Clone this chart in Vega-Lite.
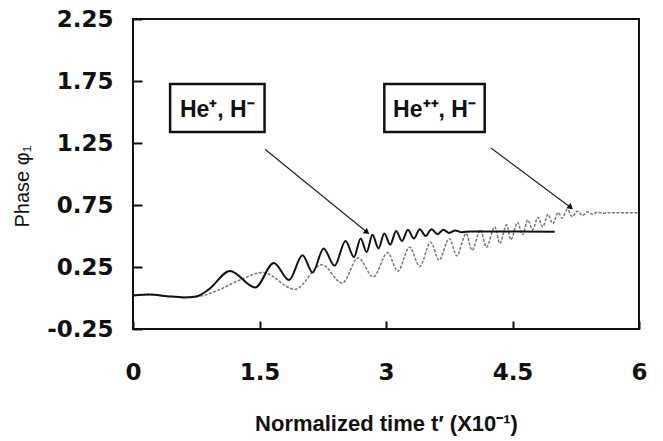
{
  "$schema": "https://vega.github.io/schema/vega-lite/v6.json",
  "width": 506,
  "height": 310,
  "autosize": {"type": "none"},
  "padding": {"left": 133, "top": 19, "right": 24, "bottom": 112},
  "background": "white",
  "config": {
    "view": {"stroke": "#111", "strokeWidth": 2},
    "font": "Liberation Sans"
  },
  "datasets": {
    "heplus": [
      {"t": 0, "v": 0.02}, {"t": 0.2, "v": 0.028}, {"t": 0.4, "v": 0.015}, {"t": 0.6, "v": 0.005},
      {"t": 0.75, "v": 0.012}, {"t": 0.9, "v": 0.07}, {"t": 1.15, "v": 0.218}, {"t": 1.45, "v": 0.085},
      {"t": 1.67, "v": 0.282}, {"t": 1.85, "v": 0.145}, {"t": 2.01, "v": 0.345}, {"t": 2.13, "v": 0.205},
      {"t": 2.26, "v": 0.4}, {"t": 2.39, "v": 0.26}, {"t": 2.52, "v": 0.46}, {"t": 2.62, "v": 0.33},
      {"t": 2.7, "v": 0.48}, {"t": 2.77, "v": 0.37}, {"t": 2.84, "v": 0.51}, {"t": 2.91, "v": 0.4},
      {"t": 2.98, "v": 0.52}, {"t": 3.05, "v": 0.43}, {"t": 3.12, "v": 0.54}, {"t": 3.19, "v": 0.46},
      {"t": 3.26, "v": 0.55}, {"t": 3.33, "v": 0.48}, {"t": 3.4, "v": 0.555}, {"t": 3.47, "v": 0.5},
      {"t": 3.54, "v": 0.555}, {"t": 3.61, "v": 0.515}, {"t": 3.68, "v": 0.55}, {"t": 3.75, "v": 0.525},
      {"t": 3.82, "v": 0.545}, {"t": 3.9, "v": 0.53}, {"t": 4.0, "v": 0.537}, {"t": 5.0, "v": 0.535}
    ],
    "heplusplus": [
      {"t": 0, "v": 0.02}, {"t": 0.2, "v": 0.028}, {"t": 0.4, "v": 0.015}, {"t": 0.6, "v": 0.005},
      {"t": 0.8, "v": 0.015}, {"t": 1.0, "v": 0.06}, {"t": 1.25, "v": 0.14}, {"t": 1.54, "v": 0.205},
      {"t": 1.92, "v": 0.07}, {"t": 2.24, "v": 0.268}, {"t": 2.48, "v": 0.12}, {"t": 2.67, "v": 0.322},
      {"t": 2.85, "v": 0.17}, {"t": 3.02, "v": 0.365}, {"t": 3.14, "v": 0.215}, {"t": 3.28, "v": 0.41},
      {"t": 3.4, "v": 0.255}, {"t": 3.53, "v": 0.45}, {"t": 3.63, "v": 0.305}, {"t": 3.75, "v": 0.48},
      {"t": 3.84, "v": 0.34}, {"t": 3.95, "v": 0.52}, {"t": 4.02, "v": 0.385}, {"t": 4.12, "v": 0.55},
      {"t": 4.19, "v": 0.41}, {"t": 4.29, "v": 0.575}, {"t": 4.35, "v": 0.44}, {"t": 4.43, "v": 0.59},
      {"t": 4.48, "v": 0.47}, {"t": 4.56, "v": 0.61}, {"t": 4.62, "v": 0.51}, {"t": 4.68, "v": 0.63},
      {"t": 4.74, "v": 0.55}, {"t": 4.8, "v": 0.65}, {"t": 4.86, "v": 0.575}, {"t": 4.92, "v": 0.675},
      {"t": 4.98, "v": 0.6}, {"t": 5.04, "v": 0.69}, {"t": 5.09, "v": 0.645}, {"t": 5.15, "v": 0.715},
      {"t": 5.21, "v": 0.655}, {"t": 5.27, "v": 0.7}, {"t": 5.33, "v": 0.665}, {"t": 5.39, "v": 0.695},
      {"t": 5.45, "v": 0.675}, {"t": 5.51, "v": 0.692}, {"t": 5.58, "v": 0.683}, {"t": 5.65, "v": 0.688},
      {"t": 6.0, "v": 0.687}
    ],
    "labels": [
      {"t": 0.44, "t2": 1.56, "v": 1.726, "v2": 1.339, "tc": 1.0, "vc": 1.532, "label": "He⁺, H⁻"},
      {"t": 2.98, "t2": 4.17, "v": 1.726, "v2": 1.339, "tc": 3.575, "vc": 1.532, "label": "He⁺⁺, H⁻"}
    ],
    "arrows": [
      {"t": 1.565, "v": 1.2, "t2": 2.775, "v2": 0.53},
      {"t": 4.245, "v": 1.21, "t2": 5.19, "v2": 0.73}
    ]
  },
  "layer": [
    {
      "data": {"name": "heplusplus"},
      "mark": {"type": "line", "interpolate": "monotone", "color": "#777", "strokeWidth": 1.5, "strokeDash": [3, 1.5]},
      "encoding": {
        "x": {
          "field": "t", "type": "quantitative",
          "scale": {"domain": [0, 6], "nice": false, "zero": false},
          "axis": {
            "values": [0, 1.5, 3, 4.5, 6], "format": "~g", "grid": false, "domain": false, "zindex": 1,
            "offset": -8, "tickSize": 8, "tickColor": "#111", "tickWidth": 2,
            "labelFont": "DejaVu Sans", "labelFontWeight": "bold", "labelFontSize": 23, "labelColor": "#111",
            "labelPadding": 32, "labelFlush": false,
            "title": "Normalized time t′ (X10⁻¹)", "titleFont": "Liberation Sans", "titleFontWeight": "bold",
            "titleFontSize": 22, "titleColor": "#111", "titleX": 253, "titleY": 102, "titleBaseline": "middle"
          }
        },
        "y": {
          "field": "v", "type": "quantitative",
          "scale": {"domain": [-0.25, 2.25], "nice": false, "zero": false},
          "axis": {
            "values": [-0.25, 0.25, 0.75, 1.25, 1.75, 2.25], "grid": false, "domain": false, "zindex": 1,
            "labelExpr": "replace(format(datum.value, '.2f'), '\u2212', '-')",
            "offset": -9, "tickSize": 9, "tickColor": "#111", "tickWidth": 2,
            "labelFont": "DejaVu Sans", "labelFontWeight": "bold", "labelFontSize": 23, "labelColor": "#111",
            "labelPadding": 20, "labelFlush": false,
            "title": "Phase φ₁", "titleFont": "Liberation Sans", "titleFontWeight": "normal",
            "titleFontSize": 20, "titleColor": "#111", "titleX": -120, "titleY": 167, "titleBaseline": "middle"
          }
        }
      }
    },
    {
      "data": {"name": "heplus"},
      "mark": {"type": "line", "interpolate": "monotone", "color": "#111", "strokeWidth": 2},
      "encoding": {
        "x": {"field": "t", "type": "quantitative"},
        "y": {"field": "v", "type": "quantitative"}
      }
    },
    {
      "data": {"name": "arrows"},
      "mark": {"type": "rule", "color": "#222", "strokeWidth": 1.2},
      "encoding": {
        "x": {"field": "t", "type": "quantitative"},
        "y": {"field": "v", "type": "quantitative"},
        "x2": {"field": "t2"},
        "y2": {"field": "v2"}
      }
    },
    {
      "data": {"name": "arrows"},
      "mark": {"type": "point", "shape": "triangle-up", "filled": true, "color": "#111", "size": 45, "angle": 128, "opacity": 1},
      "encoding": {
        "x": {"field": "t2", "type": "quantitative"},
        "y": {"field": "v2", "type": "quantitative"}
      }
    },
    {
      "data": {"name": "labels"},
      "mark": {"type": "rect", "fill": "white", "stroke": "#111", "strokeWidth": 2.5},
      "encoding": {
        "x": {"field": "t", "type": "quantitative"},
        "x2": {"field": "t2"},
        "y": {"field": "v", "type": "quantitative"},
        "y2": {"field": "v2"}
      }
    },
    {
      "data": {"name": "labels"},
      "mark": {"type": "text", "font": "Liberation Sans", "fontWeight": "bold", "fontSize": 23, "color": "#111", "align": "center", "baseline": "middle", "dy": 2},
      "encoding": {
        "x": {"field": "tc", "type": "quantitative"},
        "y": {"field": "vc", "type": "quantitative"},
        "text": {"field": "label"}
      }
    }
  ]
}
